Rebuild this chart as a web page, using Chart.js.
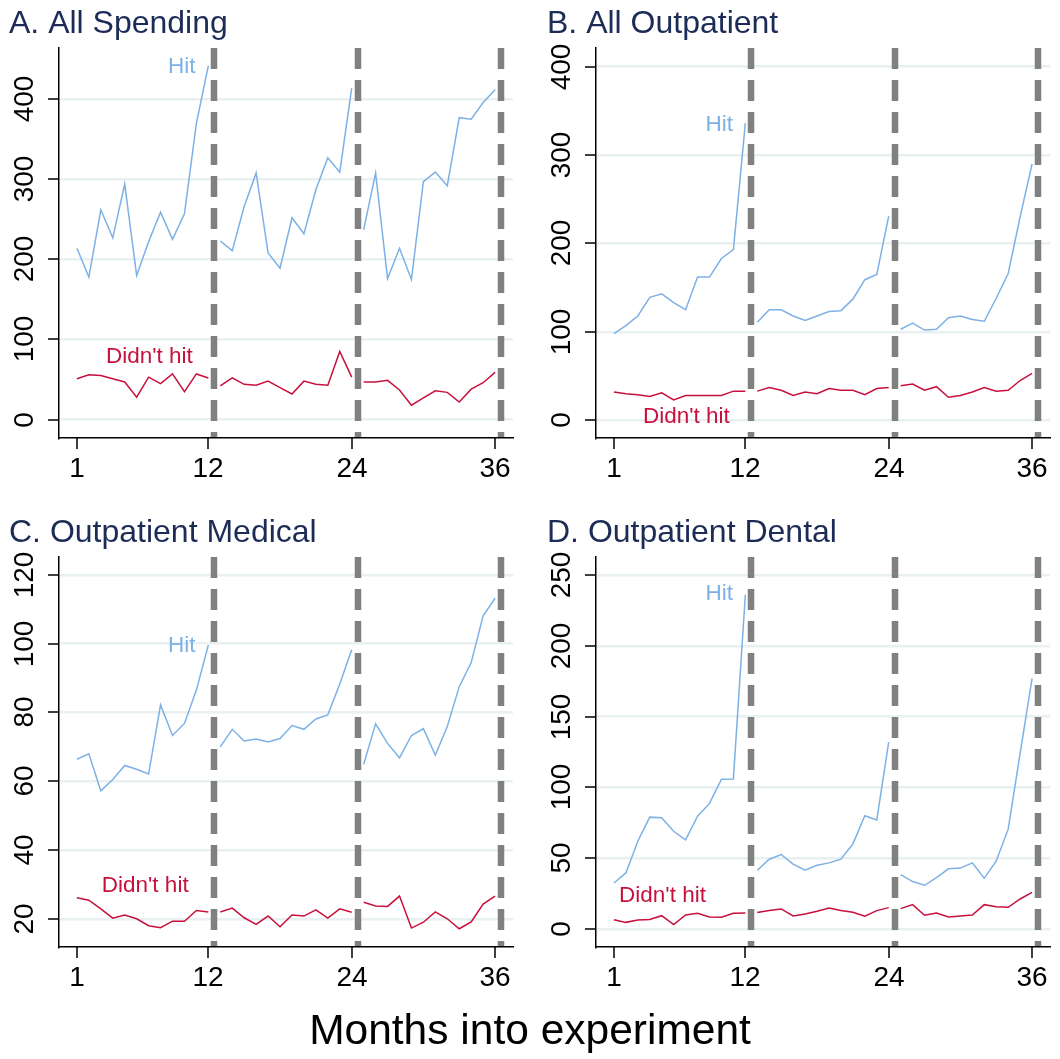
<!DOCTYPE html>
<html>
<head>
<meta charset="utf-8">
<script src="https://cdn.jsdelivr.net/npm/chart.js@4.4.1/dist/chart.umd.min.js"></script>
<style>
  html, body { margin: 0; padding: 0; background: #fff; }
  #page { position: relative; width: 1060px; height: 1059px; overflow: hidden; }
  .panel { position: absolute; width: 530px; height: 500px; }
  .panel canvas { display: block; }
  #xTitle {
    position: absolute; left: 0; top: 1006px; width: 1060px;
    text-align: center; color: #000; line-height: 46px;
    font: 42.5px 'Liberation Sans', Arial, sans-serif;
  }
</style>
</head>
<body>
<div id="page">
  <div class="panel" style="left:0;top:0"><canvas id="chartA" width="530" height="500"></canvas></div>
  <div class="panel" style="left:530px;top:0"><canvas id="chartB" width="530" height="500"></canvas></div>
  <div class="panel" style="left:0;top:509px"><canvas id="chartC" width="530" height="500"></canvas></div>
  <div class="panel" style="left:530px;top:509px"><canvas id="chartD" width="530" height="500"></canvas></div>
  <div id="xTitle">Months into experiment</div>
</div>

<script>
// ---- data ----
const months = [1, 2, 3, 4, 5, 6, 7, 8, 9, 10, 11, 12,
                13, 14, 15, 16, 17, 18, 19, 20, 21, 22, 23, 24,
                25, 26, 27, 28, 29, 30, 31, 32, 33, 34, 35, 36];
const xTicks = [1, 12, 24, 36];
const yearEnds = [12, 24];           // lines are broken after these months
const dashPositions = [12.5, 24.5, 36.5];

// A. All Spending
const hitAll   = [214, 178, 262, 227, 294, 180, 222, 259, 225, 257, 370, 442,
                  223, 211, 266, 308, 208, 189, 252, 232, 287, 327, 309, 414,
                  237, 308, 176, 214, 175, 297, 309, 292, 377, 375, 396, 412];
const noHitAll = [51, 56, 55, 51, 47, 28, 53, 45, 57, 35, 57, 52,
                  42, 52, 44, 43, 48, 40, 32, 48, 44, 43, 85, 53,
                  47, 47, 49, 37, 18, 27, 36, 34, 22, 38, 46, 59];
const yTicksAll = [0, 100, 200, 300, 400];

// B. All Outpatient
const hitOut   = [98, 107, 118, 139, 143, 133, 125, 162, 162, 183, 193, 336,
                  111, 125, 125, 118, 113, 118, 123, 124, 137, 159, 165, 231,
                  103, 110, 102, 103, 116, 118, 114, 112, 138, 166, 230, 290];
const noHitOut = [32, 30, 29, 27, 31, 23, 28, 28, 28, 28, 33, 33,
                  33, 37, 34, 28, 32, 30, 36, 34, 34, 29, 36, 37,
                  39, 41, 34, 38, 26, 28, 32, 37, 33, 34, 45, 53];
const yTicksOut = [0, 100, 200, 300, 400];

// C. Outpatient Medical
const hitMed   = [66.4, 68.0, 57.2, 60.5, 64.6, 63.5, 62.1, 82.2, 73.3, 76.8, 86.5, 99.6,
                  70.0, 75.1, 71.7, 72.3, 71.4, 72.4, 76.2, 75.1, 78.1, 79.3, 88.3, 98.2,
                  64.9, 76.7, 71.0, 66.8, 73.3, 75.3, 67.6, 75.9, 87.5, 94.5, 108.1, 113.2];
const noHitMed = [26.1, 25.4, 22.9, 20.2, 21.1, 20.0, 18.0, 17.4, 19.3, 19.3, 22.4, 22.0,
                  22.0, 23.1, 20.3, 18.4, 20.8, 17.7, 21.1, 20.8, 22.6, 20.2, 22.9, 21.9,
                  24.8, 23.7, 23.6, 26.6, 17.3, 19.0, 22.0, 20.0, 17.1, 19.1, 24.3, 26.6];
const yTicksMed = [20, 40, 60, 80, 100, 120];

// D. Outpatient Dental
const hitDen   = [32.5, 39.6, 62, 79, 78.5, 69, 63, 79.7, 88.7, 105.7, 106, 236,
                  41.5, 49.3, 52.6, 45.8, 41.5, 45, 46.7, 49.3, 60, 80, 77, 132,
                  38.4, 33.5, 30.9, 36.3, 42.5, 43, 46.7, 35.8, 48.1, 70.5, 124, 177];
const noHitDen = [6.6, 4.7, 6.4, 6.8, 9.4, 3.1, 9.9, 11.1, 8.5, 8.3, 11.1, 11.3,
                  11.6, 13, 14.2, 9.2, 10.6, 12.5, 14.9, 13, 11.8, 9, 13, 15.1,
                  14.4, 17.2, 9.7, 11.3, 8.5, 9.2, 9.9, 17.2, 15.8, 15.3, 21.2, 25.9];
const yTicksDen = [0, 50, 100, 150, 200, 250];

// ---- style ----
const FONT = "'Liberation Sans', Arial, sans-serif";
const HIT_COLOR = '#7db1e6';
const NOHIT_COLOR = '#c8103c';
const GRID_COLOR = '#e8f0f2';
const DASH_COLOR = '#808080';
const TITLE_COLOR = '#1d2c56';

/**
 * Draws the panel title, rotated y tick labels, x tick labels,
 * the dashed year separators and the in-plot series labels
 */
const panelDecor = {
    id: 'panelDecor',
    beforeDatasetsDraw(chart, args, opts) {
        const { ctx, chartArea: a, scales: { x } } = chart;
        ctx.save();
        ctx.strokeStyle = DASH_COLOR;
        ctx.lineWidth = 6.5;
        ctx.setLineDash([21, 11]);
        dashPositions.forEach(v => {
            const px = Math.round(x.getPixelForValue(v));
            ctx.beginPath();
            ctx.moveTo(px, a.top);
            ctx.lineTo(px, a.bottom - 1);
            ctx.stroke();
        });
        ctx.restore();
    },
    afterDraw(chart, args, opts) {
        const { ctx, chartArea: a, scales: { x, y } } = chart;
        ctx.save();

        // title
        ctx.fillStyle = TITLE_COLOR;
        ctx.font = '32px ' + FONT;
        ctx.textAlign = 'left';
        ctx.textBaseline = 'alphabetic';
        ctx.fillText(opts.title, opts.titleX, 33);

        // y ticks (rotated labels)
        ctx.strokeStyle = '#000';
        ctx.fillStyle = '#000';
        ctx.lineWidth = 1.5;
        ctx.font = '28px ' + FONT;
        y.ticks.forEach(t => {
            const py = Math.round(y.getPixelForValue(t.value));
            ctx.beginPath();
            ctx.moveTo(a.left - 11, py);
            ctx.lineTo(a.left, py);
            ctx.stroke();
            ctx.save();
            ctx.translate(a.left - 26, py);
            ctx.rotate(-Math.PI / 2);
            ctx.textAlign = 'center';
            ctx.fillText(String(t.value), 0, 0);
            ctx.restore();
        });

        // x ticks
        ctx.textAlign = 'center';
        x.ticks.forEach(t => {
            const px = Math.round(x.getPixelForValue(t.value));
            ctx.beginPath();
            ctx.moveTo(px, a.bottom);
            ctx.lineTo(px, a.bottom + 11);
            ctx.stroke();
            ctx.fillText(String(t.value), px, a.bottom + 39);
        });

        // series labels
        ctx.font = '22.5px ' + FONT;
        ctx.textAlign = 'right';
        ctx.textBaseline = 'middle';
        opts.labels.forEach(l => {
            ctx.fillStyle = l.color;
            ctx.fillText(l.text, x.getPixelForValue(l.x), y.getPixelForValue(l.y));
        });

        ctx.restore();
    }
};

function seriesDataset(values, color) {
    return {
        data: months.map((m, i) => ({ x: m, y: values[i] })),
        borderColor: color,
        borderWidth: 1.5,
        pointRadius: 0,
        tension: 0,
        fill: false,
        segment: {
            borderColor: c => yearEnds.includes(c.p0.parsed.x) ? 'rgba(0,0,0,0)' : color
        }
    };
}

function makePanel(canvasId, cfg) {
    const ctx = document.getElementById(canvasId).getContext('2d');
    return new Chart(ctx, {
        type: 'line',
        data: {
            datasets: [
                seriesDataset(cfg.hit, HIT_COLOR),
                seriesDataset(cfg.noHit, NOHIT_COLOR)
            ]
        },
        options: {
            responsive: false,
            animation: false,
            layout: { padding: { top: 48, right: cfg.padRight, left: 0, bottom: 0 } },
            scales: {
                x: {
                    type: 'linear',
                    min: -0.5,
                    max: 37.5,
                    afterBuildTicks: s => { s.ticks = xTicks.map(v => ({ value: v })); },
                    afterFit: s => { s.height = 62; },
                    ticks: { display: false },
                    grid: { display: false },
                    border: { display: true, color: '#000', width: 1.5 }
                },
                y: {
                    type: 'linear',
                    min: cfg.yMin,
                    max: cfg.yMax,
                    afterBuildTicks: s => { s.ticks = cfg.yTicks.map(v => ({ value: v })); },
                    afterFit: s => { s.width = cfg.yWidth; },
                    ticks: { display: false },
                    grid: { color: GRID_COLOR, lineWidth: 2.5, drawTicks: false },
                    border: { display: true, color: '#000', width: 1.5 }
                }
            },
            plugins: {
                legend: { display: false },
                tooltip: { enabled: false },
                title: { display: false },
                panelDecor: {
                    title: cfg.title,
                    titleX: cfg.titleX,
                    labels: cfg.labels
                }
            }
        },
        plugins: [panelDecor]
    });
}

document.addEventListener('DOMContentLoaded', function() {
    makePanel('chartA', {
        title: 'A. All Spending', titleX: 9,
        hit: hitAll, noHit: noHitAll, yTicks: yTicksAll,
        yMin: -23, yMax: 464, yWidth: 59, padRight: 17,
        labels: [
            { text: 'Hit', x: 10.93, y: 441, color: HIT_COLOR },
            { text: "Didn't hit", x: 10.7, y: 78.6, color: NOHIT_COLOR }
        ]
    });
    makePanel('chartB', {
        title: 'B. All Outpatient', titleX: 17,
        hit: hitOut, noHit: noHitOut, yTicks: yTicksOut,
        yMin: -20, yMax: 421, yWidth: 66, padRight: 10,
        labels: [
            { text: 'Hit', x: 10.96, y: 334.7, color: HIT_COLOR },
            { text: "Didn't hit", x: 10.7, y: 4.5, color: NOHIT_COLOR }
        ]
    });
    makePanel('chartC', {
        title: 'C. Outpatient Medical', titleX: 9,
        hit: hitMed, noHit: noHitMed, yTicks: yTicksMed,
        yMin: 11.8, yMax: 125.2, yWidth: 59, padRight: 17,
        labels: [
            { text: 'Hit', x: 10.93, y: 99.3, color: HIT_COLOR },
            { text: "Didn't hit", x: 10.35, y: 29.5, color: NOHIT_COLOR }
        ]
    });
    makePanel('chartD', {
        title: 'D. Outpatient Dental', titleX: 17,
        hit: hitDen, noHit: noHitDen, yTicks: yTicksDen,
        yMin: -12.7, yMax: 262.7, yWidth: 66, padRight: 10,
        labels: [
            { text: 'Hit', x: 10.96, y: 236.4, color: HIT_COLOR },
            { text: "Didn't hit", x: 8.7, y: 23.8, color: NOHIT_COLOR }
        ]
    });
});
</script>
</body>
</html>
